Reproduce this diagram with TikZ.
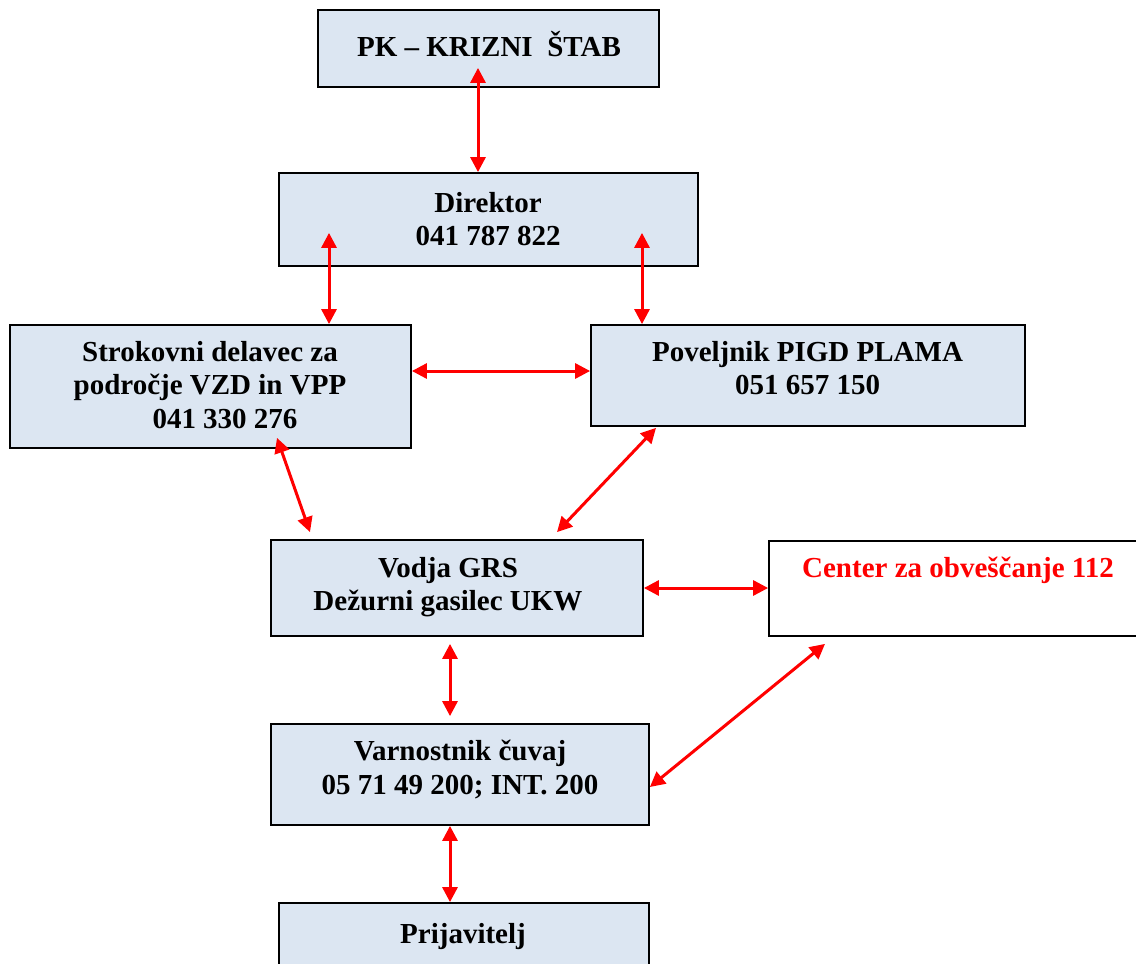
\documentclass[tikz,border=0pt]{standalone}
\usepackage{fontspec}
\setmainfont{Liberation Serif}
\usetikzlibrary{arrows.meta,calc}
\definecolor{boxblue}{RGB}{220,230,242}
\definecolor{linkred}{RGB}{255,0,0}
\tikzset{
  orgbox/.style={draw=black, line width=1.8pt, fill=boxblue, rectangle, inner sep=0pt},
  whitebox/.style={orgbox, fill=white},
  lbl/.style={font={\fontsize{29}{33.5}\selectfont\bfseries}, align=center, inner sep=0pt, anchor=north},
  link/.style={draw=linkred, line width=3pt, {Triangle[length=15pt,width=15pt]}-{Triangle[length=15pt,width=15pt]}, shorten <=0pt, shorten >=0pt}
}
\begin{document}
\begin{tikzpicture}[x=1pt,y=-1pt]
\useasboundingbox (0,0) rectangle (1136,964);
% boxes
\node[orgbox, minimum width=341pt, minimum height=77pt] (pk) at (488.5,48.5) {};
\node[orgbox, minimum width=419pt, minimum height=93pt] (dir) at (488.5,219.5) {};
\node[orgbox, minimum width=401pt, minimum height=123pt] (str) at (210.5,386.5) {};
\node[orgbox, minimum width=434pt, minimum height=101pt] (pov) at (808,375.5) {};
\node[orgbox, minimum width=372pt, minimum height=96pt] (vod) at (457,588) {};
\node[whitebox, minimum width=378pt, minimum height=95pt] (cen) at (958,588.5) {};
\node[orgbox, minimum width=378pt, minimum height=101pt] (var) at (460,774.5) {};
\node[orgbox, minimum width=370pt, minimum height=97pt] (pri) at (464,951.5) {};
% texts
\node[lbl] (tpk) at (489,31) {PK -- KRIZNI \ ŠTAB};
\node[lbl] (tdir) at (488,192) {Direktor\\041 787 822};
\node[lbl] (tstr) at (210,341) {Strokovni delavec za\\področje VZD in VPP\\\hspace*{30pt}041 330 276};
\node[lbl] (tpov) at (807.5,341) {Poveljnik PIGD PLAMA\\051 657 150};
\node[lbl] (tvod) at (448,557) {Vodja GRS\\Dežurni gasilec UKW};
\node[lbl, text=linkred] (tcen) at (958,557) {Center za obveščanje 112};
\node[lbl] (tvar) at (460,740) {Varnostnik čuvaj\\05 71 49 200; INT. 200};
\node[lbl, anchor=base] (tpri) at (463,943) {Prijavitelj};
% connectors
\draw[link] ($(pk.south)+(-10.5,-20)$) -- ($(dir.north)+(-10.5,0)$);
\draw[link] ($(dir.south)+(-159.5,-34)$) -- ($(str.north)+(118.5,0)$);
\draw[link] ($(dir.south)+(153.5,-34)$) -- ($(pov.north)+(-166,0)$);
\draw[link] ($(str.east)+(0,-15.5)$) -- ($(pov.west)+(0,-4.5)$);
\draw[link] ($(str.south)+(66.5,-11)$) -- ($(vod.north)+(-147,-7)$);
\draw[link] ($(pov.south)+(-152,1)$) -- ($(vod.north)+(100,-7)$);
\draw[link] (vod.east) -- (vod.east -| cen.west);
\draw[link] ($(vod.south)+(-7,7)$) -- ($(var.north)+(-10,-7)$);
\draw[link] ($(cen.south)+(-133,7)$) -- ($(var.east)+(0,12.5)$);
\draw[link] ($(var.south)+(-10,0)$) -- ($(pri.north)+(-14,0)$);
\end{tikzpicture}
\end{document}
